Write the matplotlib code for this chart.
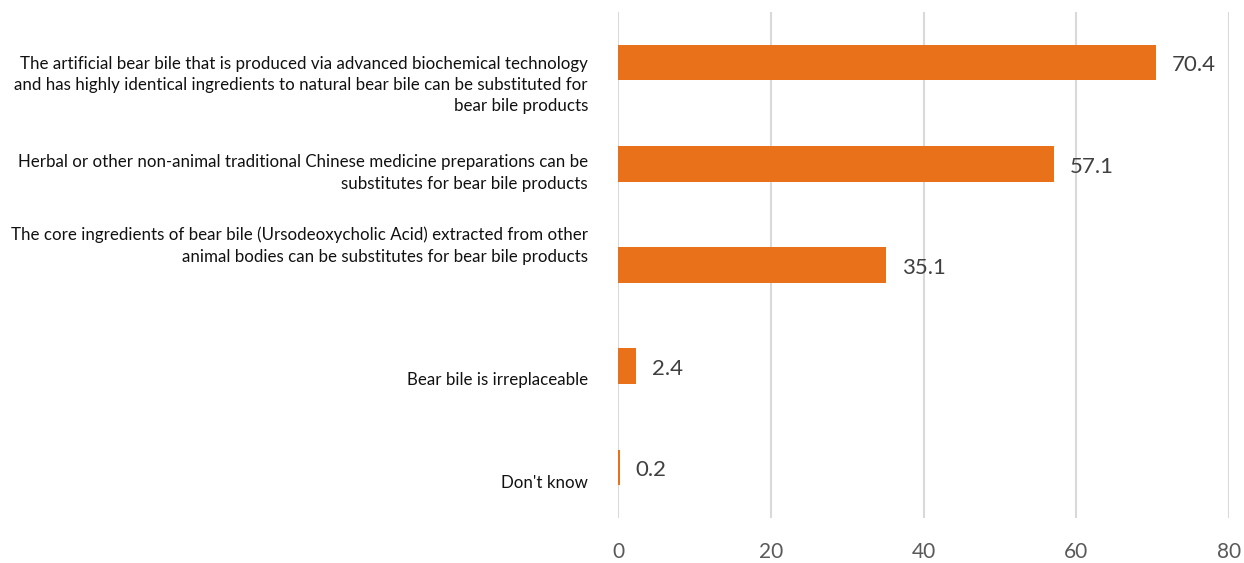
import matplotlib
matplotlib.use("Agg")
import matplotlib.pyplot as plt
import matplotlib.transforms as mtransforms

categories = [
    "The artificial bear bile that is produced via advanced biochemical technology\nand has highly identical ingredients to natural bear bile can be substituted for\nbear bile products",
    "Herbal or other non-animal traditional Chinese medicine preparations can be\nsubstitutes for bear bile products",
    "The core ingredients of bear bile (Ursodeoxycholic Acid) extracted from other\nanimal bodies can be substitutes for bear bile products",
    "Bear bile is irreplaceable",
    "Don't know",
]
values = [70.4, 57.1, 35.1, 2.4, 0.2]
xticks = [0, 20, 40, 60, 80]
# vertical shift of each category label relative to its bar (in category units)
label_shift = [0.22, 0.09, -0.19, 0.14, 0.15]

plt.rcParams['font.family'] = ['Lato', 'DejaVu Sans']

fig = plt.figure(figsize=(12.44, 5.63), dpi=100)
ax = fig.add_axes([618/1244, 1 - 518/563, (1229-618)/1244, (518-12)/563])

ypos = list(range(len(values)))
ax.barh(ypos, values, height=0.35, color='#E8711A', zorder=3)
ax.set_ylim(4.5, -0.5)
ax.set_xlim(0, 80)
ax.set_xticks(xticks)
ax.set_xticklabels([str(t) for t in xticks], fontsize=15, color='#595959')
ax.tick_params(axis='x', length=0, pad=17)
ax.set_yticks([])
ax.grid(axis='x', color='#d9d9d9', linewidth=1.5, zorder=0)
for s in ax.spines.values():
    s.set_visible(False)

trans = mtransforms.blended_transform_factory(ax.transAxes, ax.transData)
for y, lab, sh in zip(ypos, categories, label_shift):
    ax.text(-30/611, y + sh, lab, transform=trans, ha='right', va='center',
            multialignment='right', fontsize=12.2, color='#111111', linespacing=1.4)

for y, v in zip(ypos, values):
    ax.annotate(f"{v}", xy=(v, y), xytext=(11.5, -2), textcoords='offset points',
                va='center', ha='left', fontsize=16, color='#404040')

fig.savefig("out.png", dpi=100)
